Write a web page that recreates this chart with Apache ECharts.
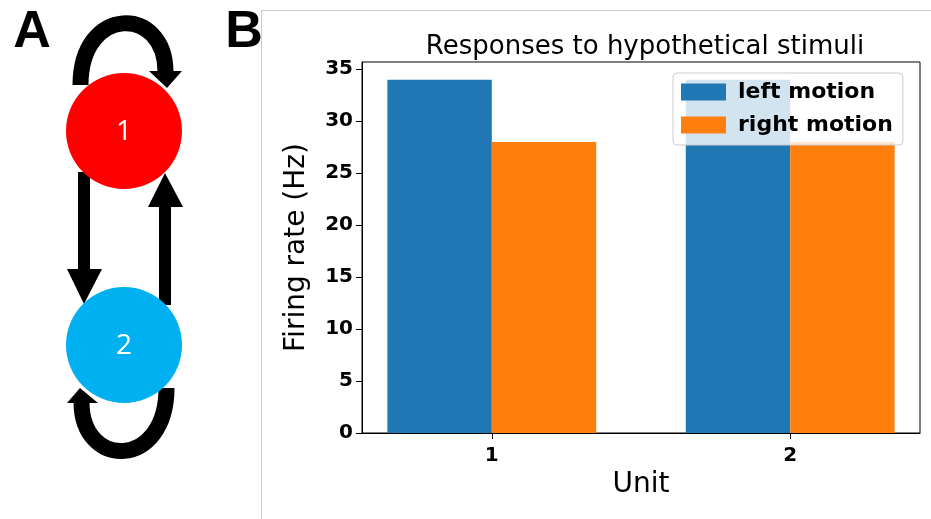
<!DOCTYPE html>
<html>
<head>
<meta charset="utf-8">
<script src="https://cdn.jsdelivr.net/npm/echarts@6/dist/echarts.min.js"></script>
<style>html,body{margin:0;padding:0;background:#fff;}#c{width:931px;height:519px;}</style>
</head>
<body>
<div id="c"></div>
<script>
var units = [1, 2];
var leftMotion = [34, 34];
var rightMotion = [28, 28];
var yTicks = [0, 5, 10, 15, 20, 25, 30, 35];
var seriesNames = ['left motion', 'right motion'];
var titleText = 'Responses to hypothetical stimuli';

var BAR_W = 0.35;
var FONT = 'DejaVu Sans';

function barRenderer(offset, color) {
  return function (params, api) {
    var u = api.value(0), v = api.value(1);
    var p0 = api.coord([u + offset, 0]);
    var p1 = api.coord([u + offset + BAR_W, v]);
    return {
      type: 'rect',
      shape: { x: p0[0], y: p1[1], width: p1[0] - p0[0], height: p0[1] - p1[1] },
      style: { fill: color }
    };
  };
}

var chart = echarts.init(document.getElementById('c'), null, { renderer: 'canvas' });
var black = '#000';
var arrowGraphics = [
  // panel border
  { type: 'line', shape: { x1: 261.5, y1: 10, x2: 261.5, y2: 519 }, style: { stroke: '#cccccc', lineWidth: 1 } },
  { type: 'line', shape: { x1: 261, y1: 10.5, x2: 931, y2: 10.5 }, style: { stroke: '#cccccc', lineWidth: 1 } },
  // letters
  { type: 'text', style: { text: 'A', x: 32, y: 33, font: 'bold 52px "Liberation Sans"', fill: '#000', align: 'center', verticalAlign: 'middle' } },
  { type: 'text', style: { text: 'B', x: 244, y: 33, font: 'bold 52px "Liberation Sans"', fill: '#000', align: 'center', verticalAlign: 'middle' } },
  // top self-loop
  { type: 'bezierCurve', shape: { x1: 80.5, y1: 85, cpx1: 80.5, cpy1: 5, cpx2: 165.5, cpy2: 5, x2: 165.5, y2: 72 }, style: { stroke: black, lineWidth: 16, fill: null } },
  { type: 'polygon', shape: { points: [[149, 71], [182, 71], [167, 88]] }, style: { fill: black } },
  // bottom self-loop
  { type: 'bezierCurve', shape: { x1: 166.5, y1: 388, cpx1: 166.5, cpy1: 469.5, cpx2: 81.5, cpy2: 469.5, x2: 81.5, y2: 402 }, style: { stroke: black, lineWidth: 16, fill: null } },
  { type: 'polygon', shape: { points: [[67, 403], [98, 403], [80, 388]] }, style: { fill: black } },
  // down arrow 1 -> 2
  { type: 'rect', shape: { x: 78, y: 172, width: 12, height: 98 }, style: { fill: black } },
  { type: 'polygon', shape: { points: [[67, 269], [102, 269], [84, 304]] }, style: { fill: black } },
  // up arrow 2 -> 1
  { type: 'rect', shape: { x: 159, y: 206, width: 12, height: 99 }, style: { fill: black } },
  { type: 'polygon', shape: { points: [[148, 207], [183, 207], [165, 173]] }, style: { fill: black } },
  // circles
  { type: 'circle', shape: { cx: 124, cy: 131, r: 58 }, style: { fill: '#ff0000' }, z: 10 },
  { type: 'circle', shape: { cx: 124, cy: 345, r: 58 }, style: { fill: '#00b0f0' }, z: 10 },
  { type: 'text', z: 11, style: { text: '1', x: 124, y: 132, font: '28px "Open Sans"', fill: '#fff', align: 'center', verticalAlign: 'middle' } },
  { type: 'text', z: 11, style: { text: '2', x: 124, y: 346, font: '28px "Open Sans"', fill: '#fff', align: 'center', verticalAlign: 'middle' } }
];

chart.setOption({
  animation: false,
  backgroundColor: '#fff',
  textStyle: { fontFamily: FONT },
  title: {
    text: titleText,
    left: 640, top: 29, textAlign: 'center',
    textStyle: { fontFamily: FONT, fontSize: 26, fontWeight: 'normal', color: '#000' }
  },
  grid: {
    left: 362, right: 11, top: 62, bottom: 86,
    show: true, borderColor: '#000', borderWidth: 1, backgroundColor: 'transparent'
  },
  legend: {
    orient: 'vertical',
    left: 673, top: 73,
    data: seriesNames,
    itemWidth: 45, itemHeight: 17, itemGap: 11,
    padding: [8, 10, 9, 8],
    icon: 'rect',
    backgroundColor: 'rgba(255,255,255,0.8)',
    borderColor: '#cccccc', borderWidth: 1, borderRadius: 4,
    textStyle: { fontFamily: FONT, fontSize: 22, fontWeight: 'bold', color: '#000', lineHeight: 22, padding: [0, 0, 0, 7] },
    z: 10
  },
  xAxis: {
    type: 'value', min: 0.565, max: 2.435,
    name: 'Unit', nameLocation: 'middle', nameGap: 37,
    nameTextStyle: { fontFamily: FONT, fontSize: 28, color: '#000' },
    axisLine: { show: true, onZero: false, lineStyle: { color: '#000', width: 1 } },
    axisTick: { show: true, length: 6, customValues: units, lineStyle: { color: '#000' } },
    axisLabel: { customValues: units, margin: 13, fontFamily: FONT, fontSize: 20, fontWeight: 'bold', color: '#000', formatter: function (v) { return String(v); } },
    splitLine: { show: false }
  },
  yAxis: {
    type: 'value', min: 0, max: 35.7, interval: 5,
    name: 'Firing rate (Hz)', nameLocation: 'middle', nameGap: 51,
    nameTextStyle: { fontFamily: FONT, fontSize: 28, color: '#000' },
    axisLine: { show: true, lineStyle: { color: '#000', width: 1 } },
    axisTick: { show: true, length: 6, customValues: yTicks, lineStyle: { color: '#000' } },
    axisLabel: { customValues: yTicks, margin: 9, fontFamily: FONT, fontSize: 20, fontWeight: 'bold', color: '#000' },
    splitLine: { show: false }
  },
  series: [
    {
      name: seriesNames[0], type: 'custom',
      itemStyle: { color: '#1f77b4' },
      encode: { x: 0, y: 1 },
      renderItem: barRenderer(-BAR_W, '#1f77b4'),
      data: units.map(function (u, i) { return [u, leftMotion[i]]; })
    },
    {
      name: seriesNames[1], type: 'custom',
      itemStyle: { color: '#ff7f0e' },
      encode: { x: 0, y: 1 },
      renderItem: barRenderer(0, '#ff7f0e'),
      data: units.map(function (u, i) { return [u, rightMotion[i]]; })
    }
  ],
  graphic: arrowGraphics
});
</script>
</body>
</html>
